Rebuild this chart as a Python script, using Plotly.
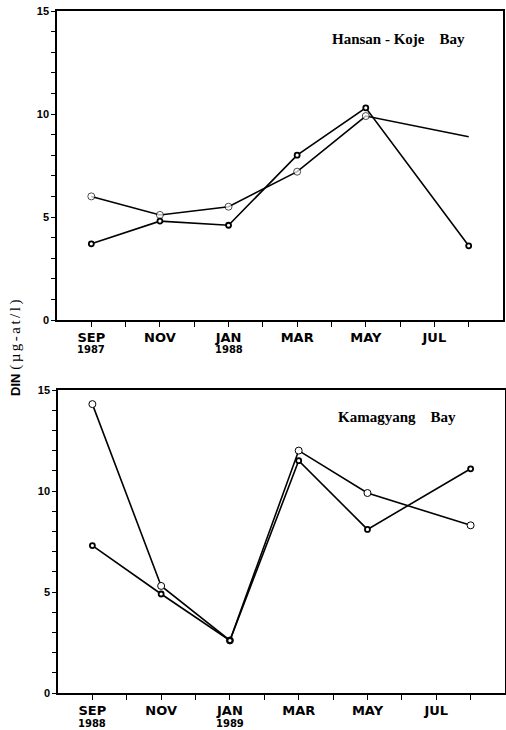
import plotly.graph_objects as go

months = ["SEP", "OCT", "NOV", "DEC", "JAN", "FEB", "MAR", "APR", "MAY", "JUN", "JUL", "AUG"]
x_idx = list(range(len(months)))
sample_months = ["SEP", "NOV", "JAN", "MAR", "MAY", "AUG"]
tick_labels = ["SEP", "", "NOV", "", "JAN", "", "MAR", "", "MAY", "", "JUL", ""]

# Hansan-Koje Bay (1987-1988)
hk_open = [6.0, 5.1, 5.5, 7.2, 9.9, 8.9]
hk_dark = [3.7, 4.8, 4.6, 8.0, 10.3, 3.6]
hk_years = {"SEP": "1987", "JAN": "1988"}

# Kamagyang Bay (1988-1989)
km_open = [14.3, 5.3, 2.6, 12.0, 9.9, 8.3]
km_dark = [7.3, 4.9, 2.6, 11.5, 8.1, 11.1]
km_years = {"SEP": "1988", "JAN": "1989"}

y_ticks = [0, 5, 10, 15]
W, H = 506, 730

xs = [months.index(m) for m in sample_months]

fig = go.Figure()

def add_series(vals, xa, ya, kind, sizes=None):
    if kind == "open":
        marker = dict(symbol="circle", size=sizes if sizes else 7, color="white",
                      line=dict(color="black", width=1))
    else:
        marker = dict(symbol="circle", size=5, color="white",
                      line=dict(color="black", width=1.8))
    fig.add_trace(go.Scatter(x=xs, y=vals, mode="lines+markers", xaxis=xa, yaxis=ya,
                             line=dict(color="black", width=1.6), marker=marker,
                             showlegend=False, cliponaxis=False, hoverinfo="skip"))

add_series(hk_open, "x", "y", "open", sizes=[7, 7, 7, 7, 7, 0])
add_series(hk_dark, "x", "y", "dark")
add_series(km_open, "x2", "y2", "open")
add_series(km_dark, "x2", "y2", "dark")

def px_x(p):
    return p / W

def px_y(p):
    return 1 - p / H

xcommon = dict(range=[-1, 12], tickmode="array", tickvals=x_idx, ticktext=tick_labels,
               ticks="outside", ticklen=5, tickwidth=1, tickcolor="black", showline=True,
               linecolor="black", linewidth=1.5, mirror=True, showgrid=False, zeroline=False,
               automargin=False,
               tickfont=dict(family="DejaVu Sans", size=13, color="black", weight="bold"))
ycommon = dict(range=[0, 15], tickmode="array", tickvals=list(range(16)),
               ticktext=[str(v) if v in y_ticks else "" for v in range(16)],
               ticks="outside", ticklen=4, tickwidth=1, tickcolor="black",
               showline=True, linecolor="black", linewidth=1.5, mirror=True,
               showgrid=False, zeroline=False, automargin=False,
               tickfont=dict(family="Liberation Sans", size=11, color="black", weight="bold"))

fig.update_layout(
    width=W, height=H, margin=dict(l=0, r=0, t=0, b=0, autoexpand=False),
    paper_bgcolor="white", plot_bgcolor="white",
    font=dict(family="Liberation Sans", color="black"),
    xaxis=dict(xcommon, domain=[px_x(57), px_x(503)], anchor="y"),
    yaxis=dict(ycommon, domain=[px_y(320), px_y(11)], anchor="x"),
    xaxis2=dict(xcommon, domain=[px_x(58), px_x(505)], anchor="y2"),
    yaxis2=dict(ycommon, domain=[px_y(693), px_y(390)], anchor="x2"),
)

for m, yr in hk_years.items():
    fig.add_annotation(text=yr, xref="x", yref="paper", x=months.index(m), y=px_y(349.5),
                       showarrow=False, xanchor="center", yanchor="middle",
                       font=dict(family="DejaVu Sans", size=10, color="black", weight="bold"))
for m, yr in km_years.items():
    fig.add_annotation(text=yr, xref="x2", yref="paper", x=months.index(m), y=px_y(723.5),
                       showarrow=False, xanchor="center", yanchor="middle",
                       font=dict(family="DejaVu Sans", size=10, color="black", weight="bold"))

fig.add_annotation(text="<b>Hansan - Koje&nbsp;&nbsp;&nbsp;&nbsp;Bay</b>", xref="paper", yref="paper",
                   x=px_x(398), y=px_y(39), showarrow=False, xanchor="center", yanchor="middle",
                   font=dict(family="Liberation Serif", size=15, color="black"))
fig.add_annotation(text="<b>Kamagyang&nbsp;&nbsp;&nbsp;&nbsp;Bay</b>", xref="paper", yref="paper",
                   x=px_x(397), y=px_y(417), showarrow=False, xanchor="center", yanchor="middle",
                   font=dict(family="Liberation Serif", size=15, color="black"))
fig.add_annotation(text="<span style='font-family:Liberation Sans;font-size:13px'><b>DIN</b></span> <span style='letter-spacing:2.5px'>(µg-at/l)</span>",
                   xref="paper", yref="paper", x=px_x(15), y=px_y(347), textangle=-90,
                   showarrow=False, xanchor="center", yanchor="middle",
                   font=dict(family="Liberation Serif", size=15, color="black"))

fig.write_html("out.html", config={"displayModeBar": False},
               post_script="document.body.style.margin='0';document.body.style.overflow='hidden';")
